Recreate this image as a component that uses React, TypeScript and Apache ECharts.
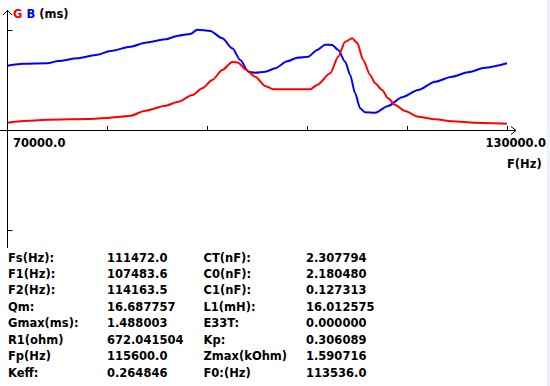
import React, { useEffect, useRef } from "react";
import * as echarts from "echarts";

// Frequency (Hz) sample points for each curve
const freqB = [70000, 71920, 74800, 76120, 78400, 80800, 82360, 84760, 86560, 88960, 90520, 91960, 92800, 94360, 95800, 97000, 97960, 98920, 99760, 100960, 102160, 103600, 104800, 106120, 107200, 108160, 109000, 109720, 110560, 111160, 111760, 112360, 112960, 114160, 115720, 117400, 119320, 121360, 123400, 125320, 127360, 130000];
const susceptanceB = [1.044, 1.076, 1.083, 1.120, 1.164, 1.222, 1.282, 1.352, 1.417, 1.472, 1.531, 1.558, 1.628, 1.607, 1.489, 1.326, 1.136, 0.946, 0.930, 0.946, 1.002, 1.115, 1.174, 1.190, 1.299, 1.385, 1.380, 1.299, 1.109, 0.893, 0.596, 0.352, 0.287, 0.281, 0.390, 0.531, 0.649, 0.784, 0.865, 0.937, 1.011, 1.083];

const freqG = [70000, 72520, 74920, 79720, 82000, 83560, 84760, 86560, 88960, 90520, 92200, 93400, 94600, 95800, 97000, 97720, 98560, 99760, 100960, 101920, 106360, 107200, 108760, 109720, 110560, 111400, 112000, 112720, 113560, 114160, 115000, 115720, 116560, 117760, 119320, 121360, 123400, 126160, 130000];
const conductanceG = [0.119, 0.151, 0.167, 0.179, 0.195, 0.216, 0.232, 0.313, 0.394, 0.459, 0.568, 0.677, 0.812, 0.974, 1.104, 1.093, 0.985, 0.865, 0.714, 0.661, 0.661, 0.731, 0.920, 1.190, 1.433, 1.488, 1.417, 1.136, 0.893, 0.758, 0.649, 0.515, 0.406, 0.308, 0.216, 0.174, 0.141, 0.119, 0.102];

const xMin = 70000;
const xMax = 130000;
const xTickValues = [82000, 94000, 106000, 118000, 130000];
const xLabels = ["70000.0", "130000.0"];
const yLimit = 1.948;
const yTickValues = [-1.623, 1.623];

const paramLabels1 = ["Fs(Hz):", "F1(Hz):", "F2(Hz):", "Qm:", "Gmax(ms):", "R1(ohm)", "Fp(Hz)", "Keff:"];
const paramValues1 = ["111472.0", "107483.6", "114163.5", "16.687757", "1.488003", "672.041504", "115600.0", "0.264846"];
const paramLabels2 = ["CT(nF):", "C0(nF):", "C1(nF):", "L1(mH):", "E33T:", "Kp:", "Zmax(kOhm)", "F0:(Hz)"];
const paramValues2 = ["2.307794", "2.180480", "0.127313", "16.012575", "0.000000", "0.306089", "1.590716", "113536.0"];

const FONT = "DejaVu Sans";

export default function App() {
  const ref = useRef<HTMLDivElement>(null);
  useEffect(() => {
    if (!ref.current) return;
    const chart = echarts.init(ref.current, null, { renderer: "svg" });
    const txt = (x: number, y: number, text: string, extra: any = {}) => ({
      type: "text",
      x,
      y,
      silent: true,
      style: {
        text,
        fill: "#000",
        font: `bold 11.5px "${FONT}"`,
        verticalAlign: "middle",
        align: "left",
        ...extra,
      },
    });
    const graphics: any[] = [
      { type: "rect", shape: { x: 547, y: 0, width: 3, height: 386 }, style: { fill: "#eef1f9" }, silent: true },
      // x axis line + arrow
      { type: "line", shape: { x1: 0, y1: 130.5, x2: 516, y2: 130.5 }, style: { stroke: "#000", lineWidth: 1 }, silent: true },
      { type: "polyline", shape: { points: [[511, 126.5], [516, 130.5], [511, 134.5]] }, style: { stroke: "#000", lineWidth: 1, fill: "none" }, silent: true },
      // y axis line + arrow
      { type: "line", shape: { x1: 7.5, y1: 248, x2: 7.5, y2: 10 }, style: { stroke: "#000", lineWidth: 1 }, silent: true },
      { type: "polyline", shape: { points: [[3, 15], [7.5, 10.5], [12, 15]] }, style: { stroke: "#000", lineWidth: 1, fill: "none" }, silent: true },
      {
        type: "text",
        x: 13,
        y: 14,
        silent: true,
        style: {
          text: "{g|G} {b|B} {k|(ms)}",
          font: `bold 11.5px "${FONT}"`,
          verticalAlign: "middle",
          rich: {
            g: { fill: "#ff0000", font: `bold 11.5px "${FONT}"` },
            b: { fill: "#0000ff", font: `bold 11.5px "${FONT}"` },
            k: { fill: "#000", font: `bold 11.5px "${FONT}"` },
          },
        },
      },
      txt(13, 143, xLabels[0]),
      txt(546, 143, xLabels[1], { align: "right" }),
      txt(507, 164, "F(Hz)"),
    ];
    const rowY0 = 257.5;
    const rowStep = 16.45;
    paramLabels1.forEach((l, i) => {
      const y = rowY0 + i * rowStep;
      graphics.push(txt(8, y, l));
      graphics.push(txt(107, y, paramValues1[i]));
      graphics.push(txt(203.5, y, paramLabels2[i]));
      graphics.push(txt(306, y, paramValues2[i]));
    });

    chart.setOption({
      animation: false,
      backgroundColor: "#ffffff",
      grid: { left: 7.5, right: 43, top: 10, bottom: 136, containLabel: false },
      xAxis: {
        type: "value",
        min: xMin,
        max: xMax,
        axisLine: { show: true, onZero: true, lineStyle: { color: "rgba(0,0,0,0)" } },
        axisTick: { show: true, inside: true, length: 4, customValues: xTickValues, lineStyle: { color: "#000", width: 1 } },
        axisLabel: { show: false },
        splitLine: { show: false },
      },
      yAxis: {
        type: "value",
        min: -yLimit,
        max: yLimit,
        axisLine: { show: true, lineStyle: { color: "rgba(0,0,0,0)" } },
        axisTick: { show: true, inside: true, length: 5, customValues: yTickValues, lineStyle: { color: "#000", width: 1 } },
        axisLabel: { show: false },
        splitLine: { show: false },
      },
      series: [
        {
          name: "G",
          type: "line",
          data: freqG.map((f, i) => [f, conductanceG[i]]),
          showSymbol: false,
          smooth: 0.25,
          smoothMonotone: "x",
          lineStyle: { color: "#ff0000", width: 2 },
          z: 3,
        },
        {
          name: "B",
          type: "line",
          data: freqB.map((f, i) => [f, susceptanceB[i]]),
          showSymbol: false,
          smooth: 0.25,
          smoothMonotone: "x",
          lineStyle: { color: "#0000ff", width: 2 },
          z: 2,
        },
      ],
      graphic: graphics,
    });
    return () => chart.dispose();
  }, []);
  return <div ref={ref} style={{ width: 550, height: 386, position: "absolute", left: 0, top: 0 }} />;
}
